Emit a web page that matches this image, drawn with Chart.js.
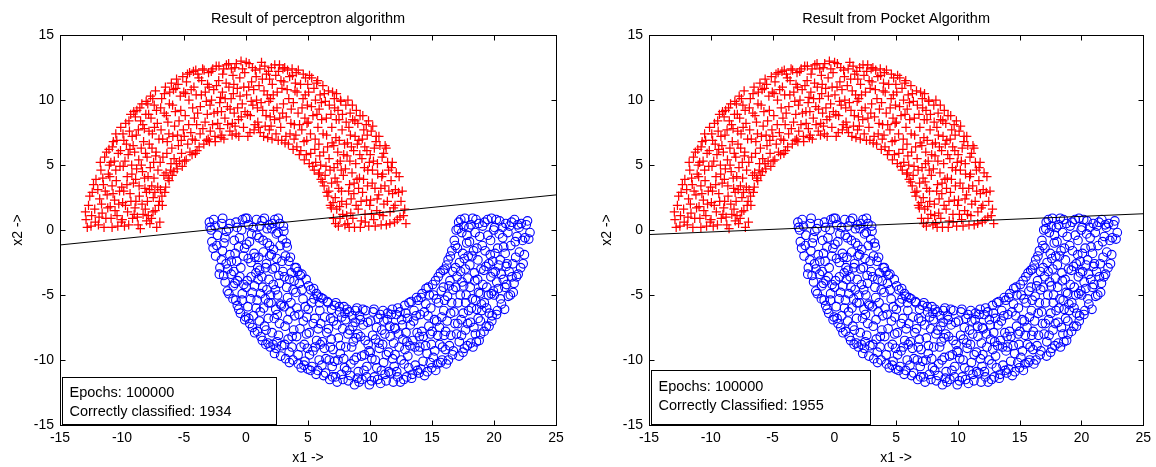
<!DOCTYPE html>
<html>
<head>
<meta charset="utf-8">
<script src="https://cdn.jsdelivr.net/npm/chart.js@4.4.1/dist/chart.umd.min.js"></script>
<style>
  html, body { margin: 0; padding: 0; background: #fff; }
  .panel { position: absolute; top: 0; width: 578px; height: 467px; }
</style>
</head>
<body>
<div class="panel" style="left:0"><canvas id="perceptron" width="578" height="467"></canvas></div>
<div class="panel" style="left:578px"><canvas id="pocket" width="578" height="467"></canvas></div>
<script>
// axis ticks
const xTicks = [-15, -10, -5, 0, 5, 10, 15, 20, 25];
const yTicks = [-15, -10, -5, 0, 5, 10, 15];

// class +1 (upper moon, red crosses)
const upperMoon = [
  [-12.9,0.8],[-12.7,1.9],[-12.5,0.3],[-12.4,2.9],[-12.2,1.6],[-12.1,3.9],
  [-11.9,0.4],[-11.8,2.4],[-11.7,4.6],[-11.6,1.3],[-11.5,3.5],[-11.4,5.6],[-11.3,0.9],[-11.2,2.7],[-11.1,4.3],[-11.05,6.2],
  [-10.95,1.8],[-10.9,5.2],[-10.8,0.2],[-10.8,3.4],[-10.7,6.8],[-10.6,2.3],[-10.5,4.6],[-10.5,7.4],[-10.4,1.1],[-10.3,5.9],[-10.2,3.0],[-10.1,7.9],[-10.05,0.6],
  [-9.95,2.1],[-9.9,4.9],[-9.85,6.9],[-9.8,0.3],[-9.7,8.2],[-9.6,3.5],[-9.55,1.4],[-9.5,5.8],[-9.4,7.6],[-9.35,2.8],[-9.3,8.9],[-9.2,4.3],[-9.15,0.9],[-9.1,6.5],[-9.05,9.1],
  [-8.95,1.7],[-8.9,3.9],[-8.85,7.3],[-8.8,9.2],[-8.7,0.4],[-8.65,5.4],[-8.6,2.6],[-8.5,8.4],[-8.45,6.3],[-8.4,9.7],[-8.35,4.5],[-8.3,1.2],[-8.2,7.8],[-8.15,3.2],[-8.1,5.9],[-8.05,9.9],[-8.02,0.7],
  [-7.95,2.2],[-7.9,4.1],[-7.85,8.9],[-7.8,6.6],[-7.75,0.5],[-7.7,10.3],[-7.6,3.4],[-7.55,7.4],[-7.5,1.4],[-7.45,5.2],[-7.4,9.6],[-7.35,2.9],[-7.3,10.7],[-7.25,6.0],[-7.2,0.2],[-7.15,8.2],[-7.1,4.6],[-7.05,1.9],
  [-6.95,0.6],[-6.9,3.1],[-6.85,7.7],[-6.8,10.1],[-6.75,1.9],[-6.7,5.6],[-6.6,9.0],[-6.55,2.9],[-6.5,11.0],[-6.45,4.4],[-6.35,6.8],[-6.3,8.3],[-6.2,3.8],[-6.15,10.6],[-6.05,5.1],
  [-5.95,4.2],[-5.9,7.2],[-5.85,10.8],[-5.8,5.5],[-5.7,9.1],[-5.6,11.6],[-5.55,4.7],[-5.45,6.5],[-5.4,8.4],[-5.3,10.3],[-5.2,5.9],[-5.1,11.8],[-5.05,7.7],
  [-4.95,5.3],[-4.9,8.8],[-4.8,11.4],[-4.7,6.6],[-4.6,10.0],[-4.55,12.1],[-4.45,7.5],[-4.35,5.8],[-4.3,9.4],[-4.2,11.0],[-4.1,6.9],[-4.05,12.3],
  [-3.95,6.1],[-3.9,9.0],[-3.8,11.7],[-3.7,7.4],[-3.6,10.4],[-3.5,12.4],[-3.4,6.6],[-3.3,8.3],[-3.2,9.9],[-3.1,11.2],[-3.05,7.0],
  [-2.95,6.8],[-2.9,9.6],[-2.8,12.2],[-2.7,8.1],[-2.6,10.8],[-2.5,7.2],[-2.4,12.6],[-2.3,9.1],[-2.2,11.5],[-2.1,7.8],[-2.05,10.2],
  [-1.95,7.3],[-1.9,10.6],[-1.8,12.4],[-1.7,8.6],[-1.6,11.3],[-1.5,9.5],[-1.4,12.8],[-1.3,7.6],[-1.2,10.1],[-1.1,8.2],[-1.05,11.9],
  [-0.95,9.0],[-0.9,12.5],[-0.8,7.4],[-0.7,10.9],[-0.6,8.5],[-0.5,11.7],[-0.4,13.0],[-0.3,9.7],[-0.2,7.9],[-0.1,12.1],
  [0.05,10.4],[0.15,7.2],[0.25,12.8],[0.35,8.8],[0.45,11.4],[0.55,9.6],[0.65,7.7],[0.75,12.3],[0.85,10.0],[0.95,8.3],
  [1.05,11.1],[1.15,7.5],[1.25,12.9],[1.35,9.2],[1.45,10.7],[1.55,8.0],[1.65,12.0],[1.75,7.1],[1.85,9.9],[1.9,11.6],[1.95,8.7],
  [2.05,12.5],[2.1,7.0],[2.2,10.4],[2.3,8.5],[2.4,11.9],[2.5,9.4],[2.6,6.9],[2.7,12.7],[2.8,7.9],[2.9,10.9],[2.95,9.0],
  [3.05,11.4],[3.15,6.7],[3.25,8.7],[3.35,12.3],[3.45,10.1],[3.55,7.4],[3.65,9.3],[3.75,11.9],[3.8,6.2],[3.9,8.1],[3.95,10.7],
  [4.05,12.1],[4.1,6.4],[4.2,9.0],[4.3,5.8],[4.4,11.2],[4.5,7.7],[4.6,10.1],[4.7,5.4],[4.75,8.6],[4.8,11.7],[4.9,6.9],[4.95,9.6],
  [5.05,10.6],[5.1,5.1],[5.2,7.4],[5.3,11.7],[5.4,8.8],[5.5,4.6],[5.55,6.2],[5.6,10.0],[5.7,11.3],[5.8,7.9],[5.85,4.3],[5.9,9.3],[5.95,5.7],
  [6.05,3.9],[6.1,8.5],[6.2,11.1],[6.25,6.0],[6.3,3.4],[6.4,9.9],[6.45,4.9],[6.5,7.3],[6.6,2.6],[6.65,10.7],[6.7,5.5],[6.8,1.9],[6.85,8.9],[6.9,3.6],[6.95,6.7],
  [7.05,0.9],[7.1,4.8],[7.15,9.4],[7.2,2.5],[7.25,7.1],[7.3,10.5],[7.35,3.7],[7.4,6.0],[7.45,0.3],[7.5,8.5],[7.55,1.8],[7.6,5.3],[7.65,9.9],[7.7,3.0],[7.75,7.7],[7.8,1.2],[7.85,4.2],[7.95,6.6],
  [8.05,9.6],[8.1,2.0],[8.15,5.7],[8.2,0.5],[8.3,7.9],[8.35,3.5],[8.4,9.0],[8.45,1.3],[8.5,6.4],[8.55,4.4],[8.6,8.5],[8.7,2.8],[8.75,0.2],[8.8,7.2],[8.85,5.1],[8.9,9.2],[8.95,3.9],
  [9.05,1.6],[9.1,6.9],[9.15,4.0],[9.2,8.8],[9.3,0.7],[9.35,5.5],[9.4,2.9],[9.5,7.7],[9.55,4.8],[9.6,1.2],[9.7,8.1],[9.75,6.1],[9.8,3.4],[9.9,0.3],[9.95,5.2],
  [10.05,2.3],[10.1,7.6],[10.2,4.6],[10.3,0.8],[10.35,6.3],[10.4,3.2],[10.5,7.2],[10.55,1.5],[10.6,5.1],[10.7,2.7],[10.8,6.5],[10.9,0.4],[10.95,4.1],
  [11.05,1.1],[11.1,5.9],[11.2,3.4],[11.3,6.3],[11.4,2.2],[11.5,4.6],[11.6,0.5],[11.7,3.8],[11.8,5.2],[11.9,1.7],
  [12.05,3.1],[12.2,0.8],[12.35,4.1],[12.5,2.2],[12.7,1.1],[12.9,0.5],
  [-12.95,1.4],[-12.8,0.2],[-12.6,2.6],[-12.45,1.1],[-12.3,3.5],[-12.15,0.6],
  [-11.95,3.1],[-11.85,1.0],[-11.75,5.2],[-11.65,2.0],[-11.55,4.0],[-11.45,0.2],[-11.35,3.0],[-11.25,6.0],[-11.15,1.7],[-11.02,5.0],
  [-10.98,4.1],[-10.88,0.9],[-10.78,6.4],[-10.72,2.8],[-10.62,5.3],[-10.56,1.5],[-10.46,3.8],[-10.42,6.9],[-10.34,0.3],[-10.26,2.0],[-10.16,4.9],[-10.12,6.1],[-10.02,3.3],
  [-9.98,0.8],[-9.92,7.4],[-9.86,3.0],[-9.76,5.3],[-9.72,1.9],[-9.64,6.6],[-9.58,4.1],[-9.46,0.4],[-9.44,8.4],[-9.36,6.2],[-9.28,2.2],[-9.22,5.0],[-9.18,7.2],[-9.08,3.6],[-9.02,1.2],
  [-8.98,6.0],[-8.92,8.7],[-8.88,2.2],[-8.82,4.7],[-8.76,1.0],[-8.68,7.7],[-8.62,3.4],[-8.56,9.4],[-8.52,0.1],[-8.44,5.0],[-8.38,2.0],[-8.32,8.1],[-8.26,6.8],[-8.18,4.0],[-8.12,1.6],[-8.08,8.9],[-8.03,2.9],
  [-7.98,5.6],[-7.92,9.7],[-7.88,1.1],[-7.82,7.6],[-7.78,3.1],[-7.72,4.8],[-7.66,8.6],[-7.62,0.9],[-7.58,6.3],[-7.52,10.1],[-7.48,2.5],[-7.42,4.0],[-7.38,7.9],[-7.32,1.5],[-7.28,5.7],[-7.22,9.2],[-7.12,3.3],[-7.02,7.0],
  [-6.98,2.2],[-6.92,5.2],[-6.88,9.4],[-6.78,2.6],[-6.72,7.0],[-6.62,4.2],[-6.58,10.5],[-6.48,3.3],[-6.42,8.8],[-6.38,5.9],[-6.28,4.0],[-6.22,7.4],[-6.18,9.7],[-6.08,4.6],[-6.02,11.3],
  [-5.98,6.3],[-5.92,9.6],[-5.82,4.5],[-5.76,8.0],[-5.66,10.9],[-5.62,5.1],[-5.52,7.3],[-5.48,11.2],[-5.36,5.3],[-5.26,9.2],[-5.22,6.9],[-5.14,4.9],[-5.02,10.6],
  [-4.98,7.2],[-4.88,10.5],[-4.82,5.4],[-4.72,12.0],[-4.62,8.1],[-4.52,6.0],[-4.42,10.8],[-4.32,7.0],[-4.24,12.2],[-4.16,8.6],[-4.08,5.9],[-4.02,10.4],
  [-3.98,8.1],[-3.88,12.0],[-3.78,6.4],[-3.68,9.5],[-3.58,11.5],[-3.48,7.8],[-3.38,12.3],[-3.28,10.6],[-3.18,6.9],[-3.12,8.9],[-3.02,12.1],
  [-2.98,11.0],[-2.88,7.6],[-2.78,10.0],[-2.68,12.4],[-2.58,9.0],[-2.48,6.8],[-2.38,11.1],[-2.28,8.2],[-2.18,12.6],[-2.12,9.8],[-2.02,7.1],
  [-1.98,9.1],[-1.88,12.0],[-1.78,7.0],[-1.68,10.1],[-1.58,12.7],[-1.48,8.1],[-1.38,11.0],[-1.28,9.3],[-1.18,12.4],[-1.12,7.3],[-1.02,10.5],
  [-0.98,11.2],[-0.88,8.0],[-0.78,12.8],[-0.68,9.4],[-0.58,7.2],[-0.48,10.3],[-0.38,8.7],[-0.28,12.4],[-0.18,11.0],[-0.08,9.1],
  [0.02,12.9],[0.12,8.9],[0.22,11.0],[0.32,7.5],[0.42,9.9],[0.52,12.5],[0.62,10.8],[0.72,8.1],[0.82,11.8],[0.92,9.4],
  [1.02,7.9],[1.12,12.4],[1.22,9.8],[1.32,11.6],[1.42,7.2],[1.52,12.6],[1.62,8.8],[1.72,10.4],[1.82,12.2],[1.88,7.7],[1.98,10.1],
  [2.02,8.0],[2.12,11.2],[2.22,9.2],[2.32,12.7],[2.42,7.4],[2.52,10.6],[2.62,12.2],[2.72,8.6],[2.82,11.5],[2.88,6.9],[2.98,12.4],
  [3.02,9.7],[3.12,12.5],[3.22,7.2],[3.32,10.8],[3.42,6.6],[3.52,11.8],[3.62,8.2],[3.72,12.4],[3.82,9.8],[3.88,7.0],[3.98,11.3],
  [4.02,7.3],[4.12,10.6],[4.22,12.3],[4.32,8.1],[4.42,6.1],[4.52,9.4],[4.62,12.0],[4.68,6.8],[4.78,10.4],[4.86,5.8],[4.92,8.2],[4.98,11.2],
  [5.02,8.3],[5.12,11.9],[5.22,5.9],[5.28,9.5],[5.38,4.9],[5.48,10.9],[5.58,7.0],[5.62,5.2],[5.72,8.9],[5.78,11.5],[5.88,6.6],[5.92,4.4],[5.98,10.4],
  [6.02,5.0],[6.08,9.8],[6.18,3.7],[6.22,7.4],[6.32,10.5],[6.38,4.2],[6.48,8.6],[6.52,2.9],[6.58,6.4],[6.68,3.0],[6.72,9.6],[6.78,4.6],[6.88,1.7],[6.92,7.9],[6.98,10.6],
  [7.02,2.1],[7.08,6.5],[7.12,10.1],[7.18,4.0],[7.22,0.5],[7.28,8.5],[7.32,1.6],[7.38,5.1],[7.42,9.2],[7.48,3.2],[7.52,6.9],[7.58,0.9],[7.62,10.0],[7.68,4.6],[7.72,2.2],[7.78,8.9],[7.88,5.8],[7.98,0.4],
  [8.02,4.7],[8.08,8.3],[8.12,1.1],[8.18,6.7],[8.22,10.0],[8.28,3.0],[8.32,0.2],[8.38,5.3],[8.42,7.3],[8.48,2.4],[8.58,9.6],[8.62,0.9],[8.68,6.1],[8.72,3.6],[8.78,8.4],[8.88,1.9],[8.98,6.6],
  [9.02,8.2],[9.08,3.2],[9.18,5.8],[9.22,0.2],[9.28,2.2],[9.38,7.0],[9.42,8.8],[9.48,3.9],[9.58,6.4],[9.62,0.6],[9.72,2.3],[9.78,7.3],[9.82,4.6],[9.88,8.4],[9.98,1.9],
  [10.02,5.8],[10.12,1.2],[10.18,3.6],[10.22,8.0],[10.28,5.3],[10.42,0.3],[10.48,6.8],[10.58,2.4],[10.62,4.3],[10.72,7.2],[10.78,1.2],[10.88,3.2],[10.98,5.6],
  [11.02,4.3],[11.12,2.0],[11.22,6.5],[11.32,0.4],[11.42,5.2],[11.52,3.0],[11.62,1.4],[11.72,4.8],[11.82,2.8],[11.98,0.6],
  [12.02,1.9],[12.12,4.4],[12.3,2.9],[12.42,1.0],[12.6,3.0],[12.8,1.6]
];

// class -1 (lower moon, blue circles)
const lowerMoon = [
  [-2.9,0.2],[-2.75,-0.9],[-2.6,0.8],[-2.45,-2.0],[-2.3,-0.4],[-2.1,-2.9],
  [-1.95,0.5],[-1.9,-1.6],[-1.8,-3.5],[-1.7,-0.6],[-1.6,-2.6],[-1.5,-4.7],[-1.4,0.1],[-1.3,-1.9],[-1.2,-3.4],[-1.05,-5.3],
  [-0.95,-0.8],[-0.9,-4.1],[-0.8,0.6],[-0.75,-2.4],[-0.7,-5.8],[-0.6,-1.3],[-0.5,-3.6],[-0.45,-6.4],[-0.35,0.0],[-0.3,-4.9],[-0.2,-2.0],[-0.1,-6.9],[-0.05,0.9],
  [0.05,-1.1],[0.1,-3.9],[0.15,-5.9],[0.2,0.4],[0.3,-7.2],[0.4,-2.5],[0.45,-0.3],[0.5,-4.8],[0.6,-6.6],[0.65,-1.8],[0.7,-7.9],[0.8,-3.3],[0.85,0.8],[0.9,-5.4],[0.95,-2.9],
  [1.05,-0.6],[1.1,-3.1],[1.15,-6.3],[1.2,-8.2],[1.3,0.7],[1.35,-4.4],[1.4,-1.7],[1.5,-7.4],[1.55,-5.3],[1.6,-8.8],[1.65,-2.6],[1.7,0.1],[1.8,-6.8],[1.85,-3.8],[1.9,-1.2],[1.95,-9.0],[1.98,-5.0],
  [2.05,-1.9],[2.1,-7.9],[2.15,0.5],[2.2,-4.2],[2.3,-9.5],[2.35,-2.9],[2.4,-6.1],[2.45,-0.3],[2.5,-8.6],[2.55,-5.0],[2.6,0.9],[2.65,-3.5],[2.7,-7.2],[2.75,-1.2],[2.8,-9.7],[2.85,-5.8],[2.9,-2.4],[2.95,-0.7],
  [3.05,-0.1],[3.1,-3.6],[3.15,-7.4],[3.2,-9.9],[3.25,-1.0],[3.35,-5.2],[3.4,-8.4],[3.45,-2.4],[3.5,-10.2],[3.55,-6.3],[3.65,-3.3],[3.7,-9.0],[3.8,-4.6],[3.85,-7.7],[3.95,-2.9],
  [4.05,-2.9],[4.1,-6.0],[4.2,-9.6],[4.3,-4.1],[4.35,-7.6],[4.45,-10.6],[4.5,-3.4],[4.6,-5.3],[4.7,-8.8],[4.75,-10.1],[4.85,-3.8],[4.9,-6.7],[4.95,-9.1],
  [5.05,-4.3],[5.1,-7.9],[5.2,-10.8],[5.3,-5.6],[5.4,-9.3],[5.45,-4.5],[5.55,-6.8],[5.65,-11.1],[5.7,-8.5],[5.8,-5.1],[5.9,-10.0],[5.95,-6.2],
  [6.05,-5.2],[6.15,-8.6],[6.25,-11.2],[6.35,-6.7],[6.45,-9.9],[6.55,-5.5],[6.65,-7.6],[6.75,-11.5],[6.8,-9.0],[6.9,-6.1],[6.95,-10.5],
  [7.05,-7.0],[7.15,-10.1],[7.25,-5.6],[7.35,-11.7],[7.45,-8.3],[7.55,-6.3],[7.6,-9.5],[7.7,-11.1],[7.8,-7.6],[7.9,-5.9],[7.95,-10.6],
  [8.05,-9.0],[8.15,-6.1],[8.25,-11.6],[8.35,-7.7],[8.45,-10.3],[8.55,-6.6],[8.65,-8.6],[8.75,-11.9],[8.8,-7.1],[8.9,-9.8],[8.95,-6.0],
  [9.05,-10.9],[9.15,-6.6],[9.25,-8.2],[9.35,-11.5],[9.45,-7.3],[9.55,-9.6],[9.65,-6.2],[9.75,-10.5],[9.85,-8.8],[9.95,-11.9],
  [10.05,-7.0],[10.15,-9.9],[10.25,-6.3],[10.35,-11.3],[10.45,-8.4],[10.55,-10.6],[10.65,-6.8],[10.75,-9.1],[10.85,-11.8],[10.95,-7.7],
  [11.05,-6.2],[11.1,-10.2],[11.2,-8.0],[11.3,-11.6],[11.4,-6.9],[11.5,-9.4],[11.6,-7.4],[11.7,-11.0],[11.8,-6.1],[11.9,-8.7],[11.95,-10.5],
  [12.05,-7.6],[12.15,-10.9],[12.25,-6.0],[12.35,-9.0],[12.45,-11.7],[12.55,-6.9],[12.65,-8.4],[12.75,-10.3],[12.8,-5.8],[12.9,-7.9],[12.95,-11.3],
  [13.05,-9.7],[13.15,-5.6],[13.25,-7.3],[13.35,-11.4],[13.45,-8.5],[13.55,-6.2],[13.65,-10.4],[13.75,-5.2],[13.8,-7.9],[13.9,-9.3],[13.95,-11.0],
  [14.05,-6.5],[14.1,-10.7],[14.2,-4.9],[14.3,-8.2],[14.4,-11.2],[14.5,-5.7],[14.6,-9.5],[14.7,-4.4],[14.75,-7.4],[14.85,-10.2],[14.9,-6.0],[14.95,-8.8],
  [15.05,-4.2],[15.1,-9.8],[15.2,-6.9],[15.3,-10.8],[15.35,-5.3],[15.45,-8.1],[15.5,-3.6],[15.6,-7.5],[15.7,-10.2],[15.75,-4.7],[15.85,-9.0],[15.9,-3.1],[15.95,-6.2],
  [16.05,-3.0],[16.1,-7.8],[16.15,-10.3],[16.25,-5.1],[16.3,-2.3],[16.4,-8.9],[16.45,-3.9],[16.5,-6.4],[16.6,-1.6],[16.65,-9.6],[16.7,-4.6],[16.8,-0.8],[16.85,-7.2],[16.9,-2.9],[16.95,0.0],
  [17.05,-1.4],[17.1,-5.6],[17.15,0.6],[17.2,-8.6],[17.3,-3.2],[17.35,-6.9],[17.4,-0.2],[17.5,-9.4],[17.55,-4.3],[17.6,-2.2],[17.65,0.9],[17.7,-7.7],[17.75,-5.0],[17.8,-1.0],[17.85,-8.9],[17.9,-3.7],[17.95,-6.2],[17.98,0.2],
  [18.05,-2.7],[18.1,-7.1],[18.15,0.4],[18.25,-5.3],[18.3,-9.0],[18.35,-1.6],[18.45,-3.9],[18.5,-8.0],[18.55,0.8],[18.6,-6.1],[18.7,-2.3],[18.75,-4.8],[18.8,-8.5],[18.85,-0.5],[18.9,-7.0],[18.95,-3.0],[18.98,-5.7],
  [19.05,-1.2],[19.1,-4.2],[19.2,-7.8],[19.25,0.6],[19.35,-2.8],[19.4,-6.0],[19.5,-0.4],[19.55,-5.0],[19.6,-7.4],[19.7,-1.9],[19.75,-3.6],[19.8,0.9],[19.85,-6.6],[19.9,-2.4],[19.95,-4.7],
  [20.05,0.2],[20.1,-3.2],[20.2,-6.5],[20.3,-1.4],[20.35,-4.5],[20.45,0.7],[20.5,-2.3],[20.6,-5.7],[20.7,-0.6],[20.75,-3.8],[20.85,-6.1],[20.9,-1.8],[20.95,0.5],
  [21.05,-2.6],[21.15,-5.1],[21.25,0.3],[21.35,-1.2],[21.45,-3.6],[21.55,-4.8],[21.65,0.8],[21.75,-2.1],[21.85,-0.5],[21.95,-3.4],
  [22.05,-1.7],[22.2,0.5],[22.35,-2.6],[22.5,-0.6],[22.7,0.7],[22.9,-0.2],
  [-2.95,0.6],[-2.8,0.0],[-2.65,-1.4],[-2.5,0.3],[-2.35,-1.2],[-2.15,-3.4],
  [-1.98,-2.3],[-1.88,0.9],[-1.78,-1.0],[-1.68,-4.0],[-1.58,-0.1],[-1.48,-3.0],[-1.38,-4.9],[-1.28,0.5],[-1.18,-2.4],[-1.02,-4.3],
  [-0.98,-3.2],[-0.88,-1.8],[-0.82,-5.4],[-0.72,0.2],[-0.68,-3.9],[-0.58,-6.1],[-0.52,-0.6],[-0.42,-2.9],[-0.32,-5.4],[-0.28,0.8],[-0.18,-4.2],[-0.12,-1.4],[-0.02,-6.7],
  [0.02,-4.4],[0.08,0.9],[0.18,-2.2],[0.22,-6.8],[0.28,-0.9],[0.38,-5.3],[0.42,-3.6],[0.52,-7.5],[0.58,0.2],[0.68,-4.3],[0.72,-2.1],[0.82,-6.0],[0.88,-0.4],[0.92,-7.8],[0.98,-3.8],
  [1.02,-2.1],[1.08,-7.0],[1.12,0.3],[1.18,-4.9],[1.28,-3.6],[1.32,-8.5],[1.38,-0.8],[1.42,-6.0],[1.48,0.9],[1.58,-2.9],[1.62,-7.7],[1.68,-4.6],[1.72,-1.0],[1.78,-8.7],[1.82,-5.6],[1.88,0.4],[1.92,-2.0],
  [2.02,-5.6],[2.08,0.1],[2.12,-3.0],[2.18,-8.8],[2.22,-1.5],[2.28,-6.8],[2.32,0.8],[2.38,-4.6],[2.42,-9.1],[2.48,-2.2],[2.52,-6.5],[2.58,-0.2],[2.62,-8.1],[2.68,-4.1],[2.72,0.5],[2.78,-5.7],[2.88,-8.9],[2.98,-3.2],
  [3.02,0.3],[3.08,-5.9],[3.12,-8.8],[3.18,-2.0],[3.28,-4.4],[3.32,-1.3],[3.38,-6.9],[3.48,-9.4],[3.52,-3.8],[3.58,-2.1],[3.62,-5.6],[3.72,-8.2],[3.78,-10.0],[3.88,-3.9],[3.92,-6.6],
  [4.02,-4.8],[4.08,-8.2],[4.18,-3.2],[4.22,-10.3],[4.28,-6.5],[4.38,-3.5],[4.42,-9.0],[4.52,-4.6],[4.62,-7.0],[4.68,-10.4],[4.78,-5.9],[4.88,-8.0],[4.98,-10.7],
  [5.02,-6.1],[5.12,-9.6],[5.22,-4.6],[5.32,-10.5],[5.42,-7.2],[5.48,-5.3],[5.58,-9.0],[5.68,-4.9],[5.78,-10.8],[5.82,-7.6],[5.92,-5.6],[5.98,-8.8],
  [6.02,-7.2],[6.12,-10.4],[6.22,-5.3],[6.32,-9.1],[6.42,-11.0],[6.52,-7.9],[6.62,-5.6],[6.72,-10.0],[6.82,-6.8],[6.88,-8.4],[6.98,-11.3],
  [7.02,-9.2],[7.12,-5.8],[7.22,-11.3],[7.32,-7.3],[7.42,-10.0],[7.52,-5.9],[7.62,-8.9],[7.72,-6.7],[7.82,-11.5],[7.88,-9.9],[7.98,-6.4],
  [8.02,-6.9],[8.12,-10.8],[8.22,-8.0],[8.32,-6.3],[8.42,-11.2],[8.52,-9.0],[8.62,-7.4],[8.72,-10.0],[8.82,-6.2],[8.88,-8.3],[8.98,-11.4],
  [9.02,-8.0],[9.12,-11.7],[9.22,-6.9],[9.32,-9.7],[9.42,-6.1],[9.52,-10.8],[9.62,-8.5],[9.72,-11.3],[9.82,-7.1],[9.92,-9.3],
  [10.02,-9.4],[10.12,-11.6],[10.22,-8.1],[10.32,-6.1],[10.42,-10.0],[10.52,-7.5],[10.62,-11.5],[10.72,-8.7],[10.82,-6.5],[10.92,-10.8],
  [11.02,-8.8],[11.12,-7.0],[11.22,-11.1],[11.32,-9.6],[11.42,-6.4],[11.52,-10.9],[11.62,-8.2],[11.72,-6.5],[11.82,-9.9],[11.88,-11.7],[11.98,-7.5],
  [12.02,-9.6],[12.12,-6.5],[12.22,-11.3],[12.32,-8.0],[12.42,-6.3],[12.52,-10.0],[12.62,-7.3],[12.72,-11.5],[12.82,-9.2],[12.88,-6.4],[12.98,-8.6],
  [13.02,-6.8],[13.12,-10.6],[13.22,-8.9],[13.32,-5.5],[13.42,-11.1],[13.52,-7.0],[13.62,-9.0],[13.72,-6.6],[13.82,-10.8],[13.88,-5.4],[13.98,-8.2],
  [14.02,-9.0],[14.12,-5.2],[14.18,-7.8],[14.28,-10.1],[14.38,-6.3],[14.48,-8.9],[14.52,-4.5],[14.62,-10.9],[14.68,-6.6],[14.78,-5.0],[14.88,-8.0],[14.98,-10.6],
  [15.02,-7.8],[15.12,-5.0],[15.22,-9.3],[15.28,-3.9],[15.38,-7.0],[15.42,-10.3],[15.52,-5.6],[15.62,-8.8],[15.68,-3.3],[15.78,-6.7],[15.82,-10.0],[15.92,-4.4],[15.98,-8.1],
  [16.02,-5.4],[16.08,-9.2],[16.18,-2.7],[16.22,-7.0],[16.32,-10.0],[16.38,-4.3],[16.48,-2.0],[16.52,-8.1],[16.58,-5.6],[16.68,-3.2],[16.72,-9.3],[16.78,-6.3],[16.88,-1.2],[16.92,-4.4],[16.98,-8.0],
  [17.02,-3.6],[17.08,-7.2],[17.12,0.1],[17.18,-9.7],[17.22,-2.5],[17.28,-5.0],[17.32,0.8],[17.38,-8.1],[17.42,-4.0],[17.48,-1.8],[17.52,-6.4],[17.58,0.3],[17.62,-9.1],[17.68,-3.0],[17.72,-5.6],[17.82,-0.4],[17.88,-7.2],[17.92,-2.0],
  [18.02,-0.9],[18.08,-4.4],[18.12,-8.7],[18.18,-6.0],[18.22,-2.0],[18.28,0.9],[18.38,-7.5],[18.42,-3.3],[18.48,-0.2],[18.52,-5.4],[18.58,-8.6],[18.62,-1.4],[18.68,-3.8],[18.72,-6.8],[18.78,0.5],[18.88,-4.9],[18.92,-8.0],
  [19.02,-6.2],[19.08,0.3],[19.18,-3.1],[19.22,-5.6],[19.28,-1.6],[19.38,-7.4],[19.42,-4.4],[19.48,0.8],[19.58,-2.6],[19.62,-6.4],[19.72,-0.8],[19.78,-4.9],[19.82,-7.0],[19.92,-3.3],[19.98,0.0],
  [20.02,-5.0],[20.08,-1.8],[20.18,0.8],[20.22,-4.0],[20.28,-6.2],[20.38,-2.7],[20.42,-0.3],[20.52,-5.3],[20.58,-3.4],[20.68,0.2],[20.78,-1.3],[20.88,-4.4],[20.98,-2.8],
  [21.02,-4.2],[21.12,-0.2],[21.22,-3.2],[21.32,-5.0],[21.42,0.6],[21.52,-2.6],[21.62,-4.1],[21.72,-0.9],[21.82,-3.6],[21.92,0.4],
  [22.02,0.2],[22.15,-2.9],[22.3,-0.8],[22.45,-1.9],[22.6,0.4],[22.8,-0.7]
];

// decision boundaries (end points on the x range)
const perceptronLine = [[-15, -1.15], [25, 2.7]];
const pocketLine = [[-15, -0.35], [25, 1.25]];

const fontFamily = 'Arial, "Liberation Sans", Helvetica, sans-serif';

// box, inward ticks on all sides, and the text panel in the corner
const matlabAxes = {
    id: 'matlabAxes',
    afterDatasetsDraw(chart, args, opts) {
        const { ctx, chartArea: a } = chart;
        const xs = chart.scales.x;
        const ys = chart.scales.y;
        const L = Math.round(a.left) + 0.5;
        const R = Math.round(a.right) + 0.5;
        const T = Math.round(a.top) + 0.5;
        const B = Math.round(a.bottom) + 0.5;
        ctx.save();
        ctx.strokeStyle = '#000';
        ctx.lineWidth = 1;
        ctx.strokeRect(L, T, R - L, B - T);
        ctx.beginPath();
        xTicks.forEach(v => {
            const px = Math.round(xs.getPixelForValue(v)) + 0.5;
            ctx.moveTo(px, B); ctx.lineTo(px, B - 5);
            ctx.moveTo(px, T); ctx.lineTo(px, T + 5);
        });
        yTicks.forEach(v => {
            const py = Math.round(ys.getPixelForValue(v)) + 0.5;
            ctx.moveTo(L, py); ctx.lineTo(L + 5, py);
            ctx.moveTo(R, py); ctx.lineTo(R - 5, py);
        });
        ctx.stroke();

        // info panel
        const b = opts.box;
        const bx0 = Math.round(xs.getPixelForValue(b.x0)) + 0.5;
        const bx1 = Math.round(xs.getPixelForValue(b.x1)) + 0.5;
        const by0 = Math.round(ys.getPixelForValue(b.y1)) + 0.5;
        const by1 = Math.round(ys.getPixelForValue(b.y0)) - 0.5;
        ctx.fillStyle = '#fff';
        ctx.fillRect(bx0, by0, bx1 - bx0, by1 - by0);
        ctx.strokeRect(bx0, by0, bx1 - bx0, by1 - by0);
        ctx.fillStyle = '#000';
        ctx.font = '14.5px ' + fontFamily;
        ctx.textBaseline = 'middle';
        ctx.textAlign = 'left';
        b.lines.forEach((t, i) => {
            ctx.fillText(t, bx0 + 7, by0 + b.first + i * 19);
        });
        ctx.restore();
    }
};

const toXY = arr => arr.map(([x, y]) => ({ x, y }));

function makeChart(id, title, line, box, padLeft, padRight) {
    const ctx = document.getElementById(id).getContext('2d');
    return new Chart(ctx, {
        type: 'scatter',
        data: {
            datasets: [
                {
                    label: 'boundary',
                    data: toXY(line),
                    showLine: true,
                    borderColor: '#000',
                    borderWidth: 1,
                    pointRadius: 0,
                    order: 0
                },
                {
                    label: 'class -1',
                    data: toXY(lowerMoon),
                    pointStyle: 'circle',
                    pointRadius: 4.3,
                    borderColor: '#0000ff',
                    backgroundColor: 'rgba(0,0,0,0)',
                    borderWidth: 1.1,
                    order: 1
                },
                {
                    label: 'class +1',
                    data: toXY(upperMoon),
                    pointStyle: 'cross',
                    pointRadius: 4.6,
                    borderColor: '#ff0000',
                    borderWidth: 1.25,
                    order: 2
                }
            ]
        },
        options: {
            responsive: false,
            animation: false,
            events: [],
            layout: {
                autoPadding: false,
                padding: { left: padLeft, right: padRight, top: 0, bottom: 0 }
            },
            plugins: {
                legend: { display: false },
                tooltip: { enabled: false },
                title: {
                    display: true,
                    text: title,
                    fullSize: false,
                    color: '#000',
                    font: { family: fontFamily, size: 14.5, weight: 'normal', lineHeight: '15px' },
                    padding: { top: 11, bottom: 9 }
                },
                matlabAxes: { box }
            },
            scales: {
                x: {
                    type: 'linear',
                    min: -15,
                    max: 25,
                    afterBuildTicks: s => { s.ticks = xTicks.map(v => ({ value: v })); },
                    afterFit: s => { s.height = 42; },
                    grid: { display: false, drawTicks: false },
                    border: { display: false },
                    ticks: { color: '#000', padding: 5, maxRotation: 0, font: { family: fontFamily, size: 14 } },
                    title: {
                        display: true,
                        text: 'x1 ->',
                        color: '#000',
                        font: { family: fontFamily, size: 14 },
                        padding: { top: 0, bottom: 0 }
                    }
                },
                y: {
                    type: 'linear',
                    min: -15,
                    max: 15,
                    afterBuildTicks: s => { s.ticks = yTicks.map(v => ({ value: v })); },
                    afterFit: s => { s.width = 60; },
                    grid: { display: false, drawTicks: false },
                    border: { display: false },
                    ticks: { color: '#000', padding: 6, font: { family: fontFamily, size: 14 } },
                    title: {
                        display: true,
                        text: 'x2 ->',
                        color: '#000',
                        font: { family: fontFamily, size: 14 },
                        padding: { top: 10, bottom: 0 }
                    }
                }
            }
        },
        plugins: [matlabAxes]
    });
}

makeChart('perceptron', 'Result of perceptron algorithm', perceptronLine,
    { x0: -14.85, x1: 2.45, y0: -15, y1: -11.3, first: 15, lines: ['Epochs: 100000', 'Correctly classified: 1934'] },
    0, 22);
makeChart('pocket', 'Result from Pocket Algorithm', pocketLine,
    { x0: -14.8, x1: 2.9, y0: -15, y1: -10.8, first: 16.5, lines: ['Epochs: 100000', 'Correctly Classified: 1955'] },
    11, 12);
</script>
</body>
</html>
